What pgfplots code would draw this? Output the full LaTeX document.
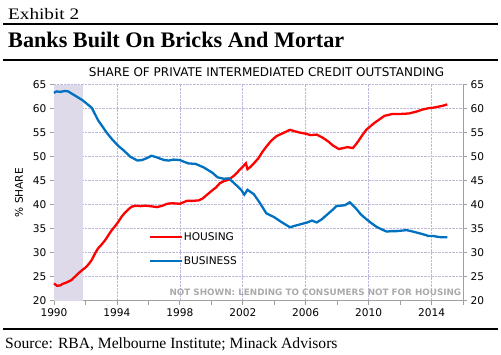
\documentclass[border=0pt]{standalone}
\usepackage{pgfplots}
\pgfplotsset{compat=1.18}
\usepackage{fontspec}
\setmainfont{Liberation Serif}
\newfontfamily\exfont[FakeStretch=1.2]{Liberation Serif}
\newfontfamily\chartfont{DejaVu Sans}
\definecolor{hred}{RGB}{255,0,0}
\definecolor{bblue}{RGB}{0,112,192}
\definecolor{gridc}{RGB}{190,185,220}
\definecolor{shadec}{RGB}{222,218,233}
\definecolor{axgray}{RGB}{160,160,160}
\definecolor{notec}{RGB}{170,170,170}
\pgfplotstableread{
x y
1990.0 63.3
1990.15 63.6
1990.4 63.5
1990.7 63.7
1990.9 63.6
1991.2 63.0
1991.5 62.4
1991.8 61.8
1992.1 61.0
1992.4 60.2
1992.6 58.9
1992.8 57.6
1993.1 56.2
1993.35 55.0
1993.7 53.6
1994.1 52.2
1994.4 51.4
1994.85 50.0
1995.3 49.2
1995.6 49.3
1995.9 49.7
1996.2 50.2
1996.5 49.9
1996.75 49.6
1997.0 49.3
1997.3 49.2
1997.6 49.4
1998.0 49.3
1998.3 48.9
1998.55 48.6
1999.0 48.5
1999.5 47.8
2000.05 46.7
2000.4 45.7
2000.8 45.4
2001.1 45.5
2001.45 44.5
2001.9 43.1
2002.1 42.1
2002.3 43.1
2002.7 42.2
2003.1 40.3
2003.5 38.2
2004.0 37.4
2004.4 36.5
2005.0 35.3
2005.3 35.6
2005.65 35.9
2006.1 36.3
2006.4 36.7
2006.7 36.3
2007.0 36.9
2007.35 37.9
2007.7 38.9
2007.95 39.7
2008.5 39.9
2008.8 40.5
2009.2 39.2
2009.5 38.0
2009.85 37.0
2010.2 36.1
2010.5 35.4
2010.8 34.9
2011.15 34.4
2011.5 34.5
2011.8 34.5
2012.1 34.6
2012.4 34.7
2012.7 34.5
2013.05 34.2
2013.4 33.9
2013.8 33.5
2014.1 33.5
2014.4 33.3
2014.7 33.2
2015.0 33.2
}\business
\pgfplotstableread{
x y
1990.0 23.6
1990.2 23.1
1990.4 23.2
1990.55 23.5
1990.8 23.8
1991.1 24.3
1991.3 24.9
1991.55 25.7
1991.8 26.4
1992.0 26.9
1992.2 27.6
1992.4 28.5
1992.6 29.8
1992.8 30.9
1993.0 31.6
1993.25 32.6
1993.45 33.6
1993.65 34.6
1993.9 35.6
1994.1 36.5
1994.3 37.5
1994.5 38.3
1994.75 39.1
1994.95 39.6
1995.2 39.8
1995.5 39.7
1995.8 39.8
1996.1 39.7
1996.55 39.5
1996.9 39.8
1997.2 40.2
1997.5 40.3
1998.0 40.2
1998.45 40.8
1998.8 40.8
1999.2 40.9
1999.45 41.3
1999.7 42.0
2000.1 43.1
2000.3 43.6
2000.55 44.5
2000.8 44.9
2001.1 45.2
2001.5 46.2
2001.9 47.6
2002.2 48.6
2002.3 47.4
2002.5 47.9
2002.7 48.6
2003.0 49.7
2003.25 51.0
2003.5 52.1
2003.8 53.3
2004.15 54.3
2004.55 54.9
2005.0 55.6
2005.3 55.3
2005.65 55.0
2006.0 54.8
2006.3 54.5
2006.7 54.6
2007.0 54.1
2007.25 53.6
2007.5 53.0
2007.7 52.4
2008.1 51.6
2008.4 51.8
2008.65 52.0
2009.0 51.8
2009.2 52.6
2009.4 53.5
2009.6 54.5
2009.85 55.6
2010.1 56.3
2010.35 57.0
2010.7 57.8
2011.0 58.5
2011.5 58.9
2012.0 58.9
2012.55 59.0
2013.05 59.4
2013.4 59.8
2013.8 60.1
2014.1 60.2
2014.4 60.4
2014.7 60.6
2015.0 60.9
}\housing
\begin{document}
\begin{tikzpicture}[x=1pt,y=1pt]
\useasboundingbox (0,0) rectangle (501,354);
\node[anchor=base west, inner sep=0, font=\exfont\fontsize{16}{16}\selectfont] at (8,334) {Exhibit 2};
\draw[line width=1.4pt] (3,330) -- (498,330);
\node[anchor=base west, inner sep=0, font=\bfseries\fontsize{22.2}{22.2}\selectfont] at (8,306.5) {Banks Built On Bricks And Mortar};
\draw[line width=1.4pt] (3,294) -- (498,294);
\node[anchor=base, inner sep=0, font=\chartfont\fontsize{12}{12}\selectfont] at (266.5,277) {SHARE OF PRIVATE INTERMEDIATED CREDIT OUTSTANDING};
\draw[line width=1.4pt] (3,25) -- (498,25);
\node[anchor=base west, inner sep=0, font=\fontsize{15.6}{15.6}\selectfont] at (5,6) {Source: RBA, Melbourne Institute; Minack Advisors};
\begin{axis}[
  at={(54pt,53.3pt)}, anchor=south west, scale only axis,
  width=409pt, height=216pt,
  xmin=1990, xmax=2016, ymin=20, ymax=65,
  axis x line*=bottom, axis y line*=left,
  axis line style={draw=axgray, line width=0.8pt, -},
  xtick={1990,1994,...,2014}, minor xtick={1992,1996,...,2016},
  ytick={20,25,...,65},
  tick align=outside, major tick length=4pt, minor tick length=4pt,
  tick style={draw=axgray, line width=0.8pt},
  xmajorgrids, ymajorgrids,
  major grid style={densely dotted, gridc, line width=0.6pt},
  ticklabel style={font=\chartfont\fontsize{10.6}{10.6}\selectfont},
  /pgf/number format/assume math mode=true,
  xticklabel style={/pgf/number format/1000 sep={}},
  ylabel={\% SHARE},
  ylabel style={font=\chartfont\fontsize{10.6}{10.6}\selectfont, yshift=3pt},
  legend style={at={(axis cs:1996,34.5)}, anchor=north west, draw=none, fill=none,
    inner sep=0pt, row sep=12.5pt, font=\chartfont\fontsize{10.6}{10.6}\selectfont,
    nodes={inner sep=1pt}},
  legend cell align=left,
  legend image code/.code={\draw[#1] (0pt,0pt) -- (32pt,0pt);},
  clip=false,
]
\addplot[fill=shadec, draw=none, forget plot] coordinates {(1990,20) (1990,65) (1991.83,65) (1991.83,20)} -- cycle;
\addplot[hred, line width=2.3pt] table[x=x,y=y] {\housing};
\addlegendentry{HOUSING}
\addplot[bblue, line width=2.3pt] table[x=x,y=y] {\business};
\addlegendentry{BUSINESS}
\node[anchor=base east, inner sep=0, text=notec, font=\chartfont\bfseries\fontsize{8.8}{8.8}\selectfont] at (axis cs:2015.9,21.0) {NOT SHOWN: LENDING TO CONSUMERS NOT FOR HOUSING};
\end{axis}
\begin{axis}[
  at={(54pt,53.3pt)}, anchor=south west, scale only axis,
  width=409pt, height=216pt,
  xmin=1990, xmax=2016, ymin=20, ymax=65,
  axis x line=none, axis y line*=right,
  axis line style={draw=axgray, line width=0.8pt, -},
  ytick={20,25,...,65},
  tick align=outside, major tick length=4pt,
  tick style={draw=axgray, line width=0.8pt},
  ticklabel style={font=\chartfont\fontsize{10.6}{10.6}\selectfont},
  /pgf/number format/assume math mode=true,
]
\addplot[draw=none] coordinates {(1990,20)};
\end{axis}
\end{tikzpicture}
\end{document}
